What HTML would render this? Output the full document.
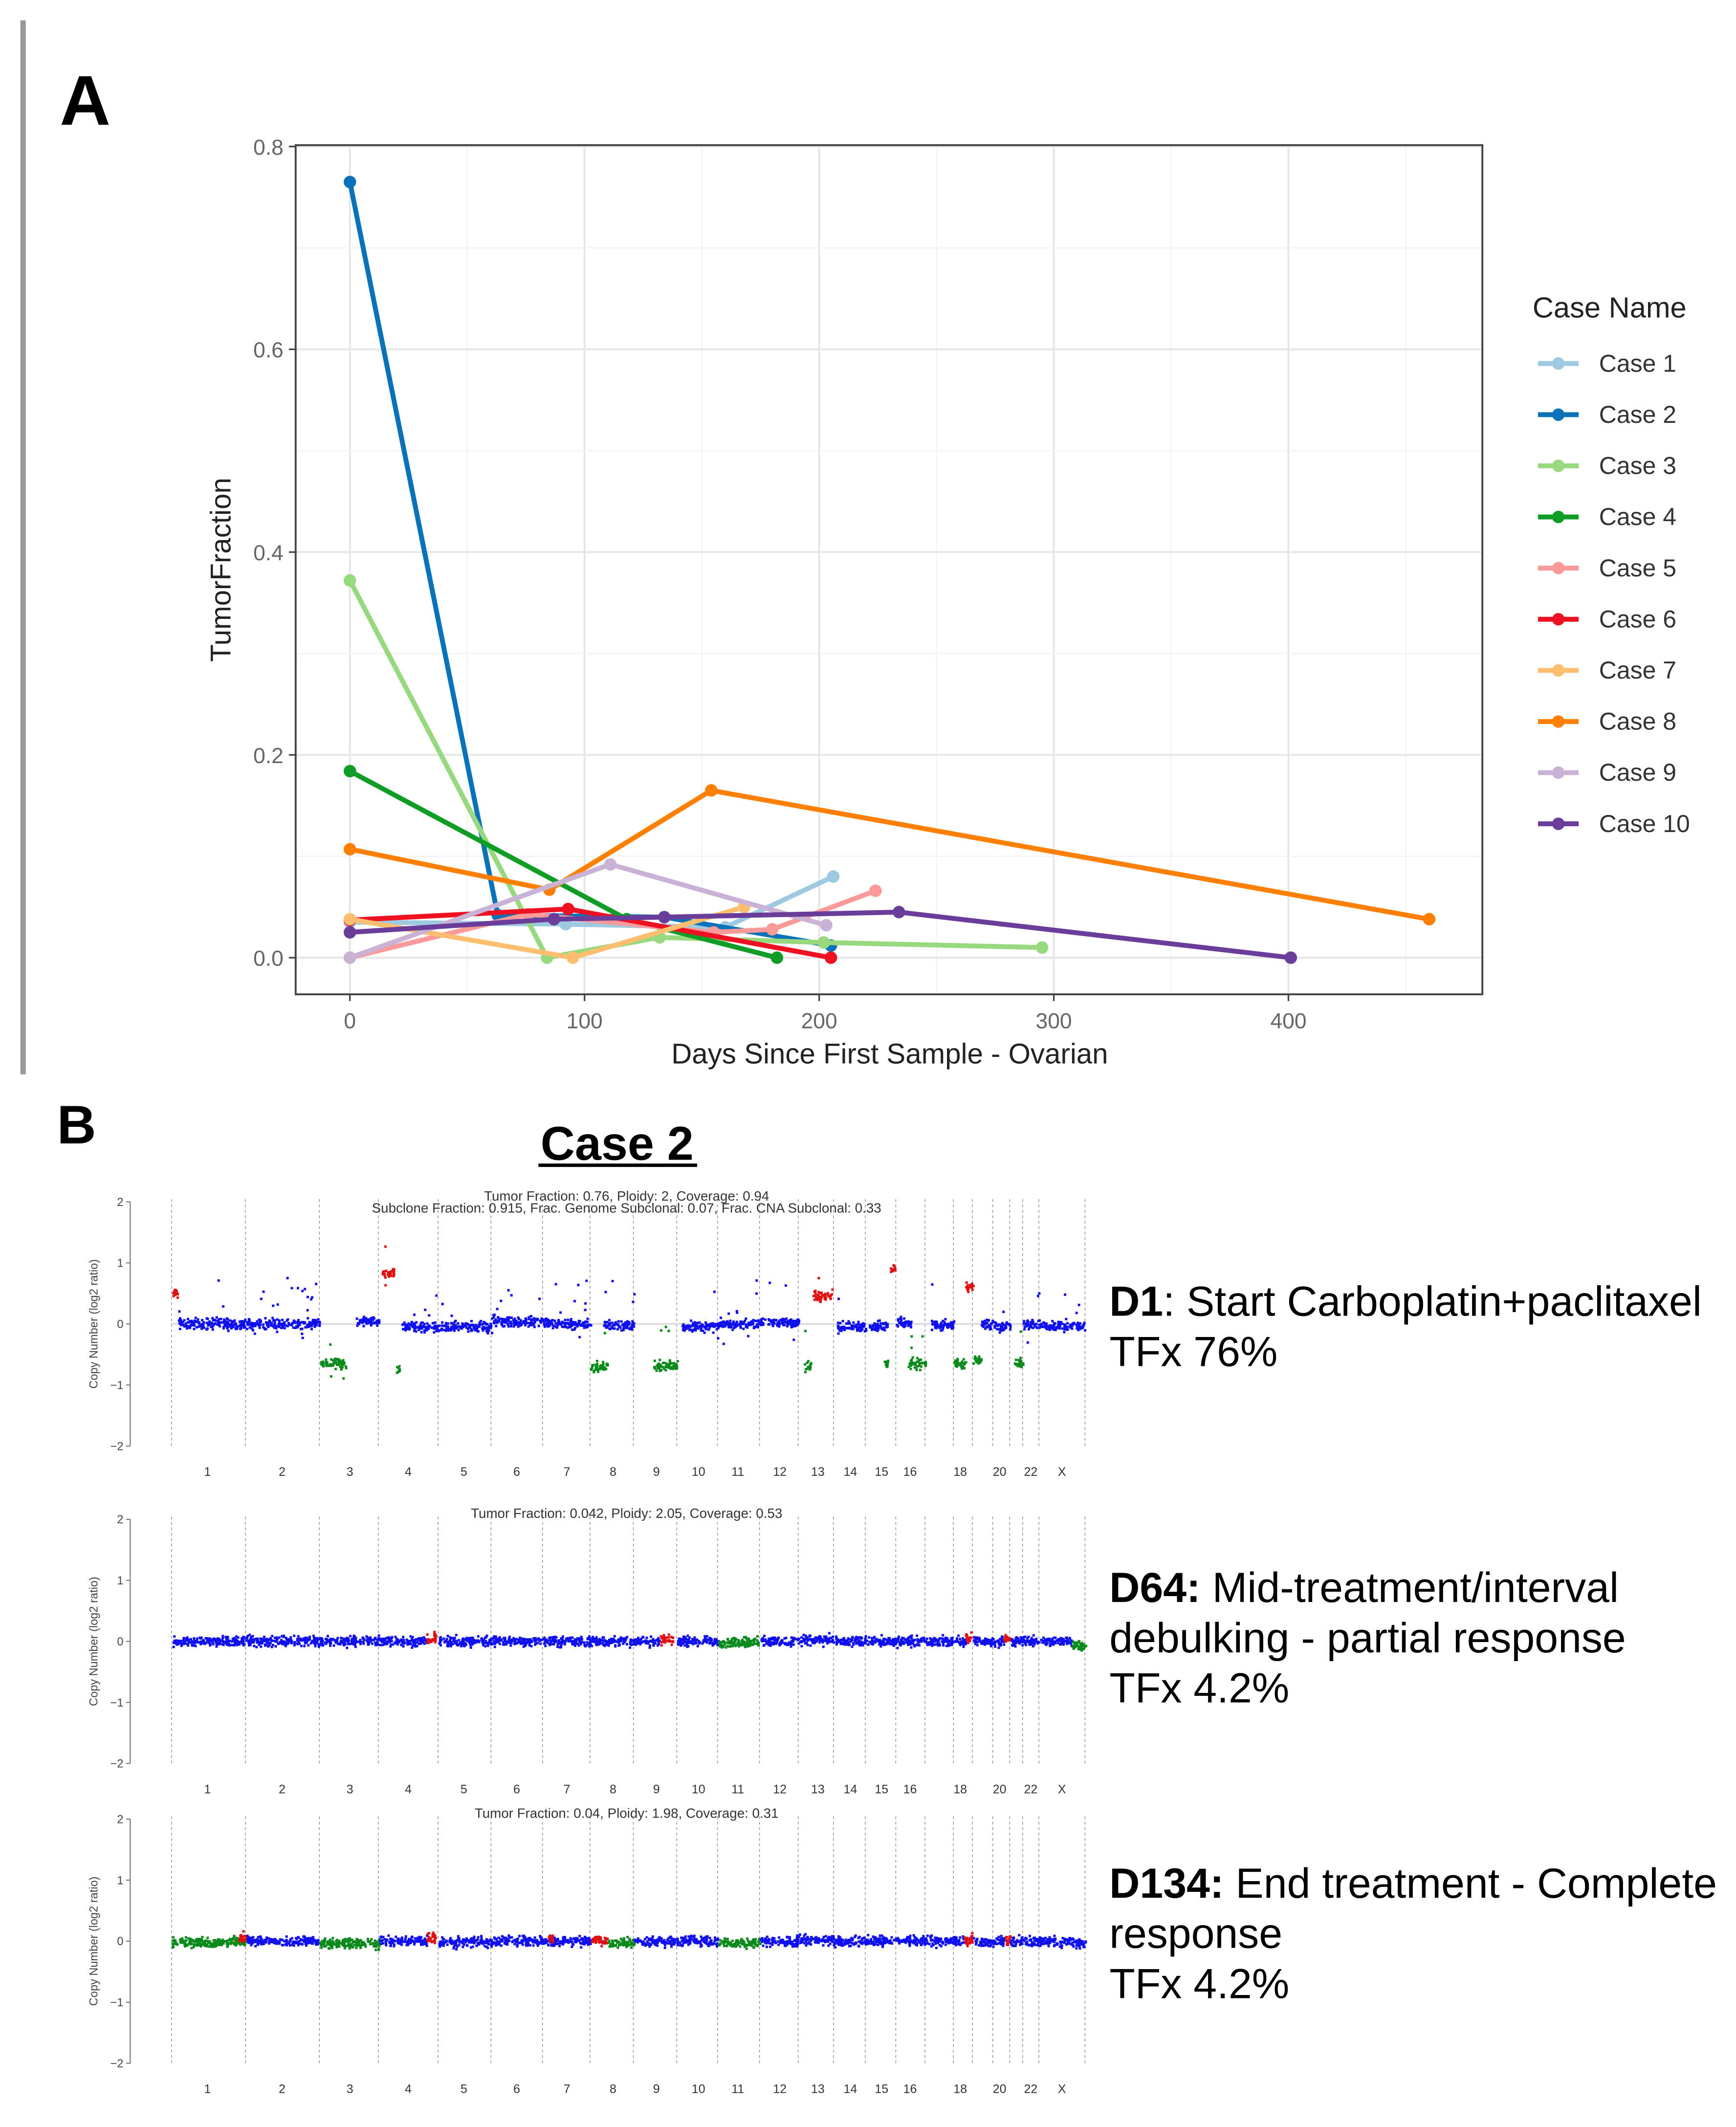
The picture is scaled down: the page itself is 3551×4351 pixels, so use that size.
<!DOCTYPE html>
<html><head><meta charset="utf-8"><title>Tumor fraction and copy number, ovarian cases</title>
<style>
html,body{margin:0;padding:0;background:#fff;}
svg{display:block;}
text{font-family:"Liberation Sans",sans-serif;}
</style></head>
<body>
<svg id="fig" width="3551" height="4351" viewBox="0 0 1280 1568" preserveAspectRatio="none" xmlns="http://www.w3.org/2000/svg">
<rect x="0" y="0" width="1280" height="1568" fill="#fff"/>
<rect x="15" y="15" width="4" height="777" fill="#999"/>
<text x="44" y="92" font-size="52" font-weight="bold" fill="#000">A</text>
<g id="chartA"></g>
<text x="42" y="843" font-size="40" font-weight="bold" fill="#000">B</text>
<text x="455" y="855" font-size="35" font-weight="bold" text-anchor="middle" fill="#000">Case 2</text>
<line x1="397" y1="859" x2="514" y2="859" stroke="#000" stroke-width="2.5"/>
<g id="cnPanels"></g>
<g font-size="31" fill="#000">
<text x="818" y="970"><tspan font-weight="bold">D1</tspan>: Start Carboplatin+paclitaxel</text>
<text x="818" y="1007">TFx 76%</text>
</g>
<g font-size="31" fill="#000">
<text x="818" y="1181"><tspan font-weight="bold">D64:</tspan> Mid-treatment/interval</text>
<text x="818" y="1218">debulking - partial response</text>
<text x="818" y="1255">TFx 4.2%</text>
</g>
<g font-size="31" fill="#000">
<text x="818" y="1399"><tspan font-weight="bold">D134:</tspan> End treatment - Complete</text>
<text x="818" y="1436">response</text>
<text x="818" y="1473">TFx 4.2%</text>
</g>
</svg>
<script>
// ===== Panel A data =====
const caseNames = ["Case 1","Case 2","Case 3","Case 4","Case 5","Case 6","Case 7","Case 8","Case 9","Case 10"];
const caseColors = ["#9ecae1","#0a72b8","#98d97f","#0f9d25","#fb9a99","#ee1122","#fdbf6f","#ff7f00","#cab2d6","#6a3d9a"];
const case1Days = [0,92,160,206];      const case1TF = [0.035,0.033,0.030,0.080];
const case2Days = [0,63,134,205];      const case2TF = [0.765,0.042,0.040,0.012];
const case3Days = [0,84,132,202,295];  const case3TF = [0.372,0.000,0.020,0.015,0.010];
const case4Days = [0,118,182];         const case4TF = [0.184,0.038,0.000];
const case5Days = [0,76,155,180,224];  const case5TF = [0.000,0.043,0.025,0.028,0.066];
const case6Days = [0,93,205];          const case6TF = [0.037,0.048,0.000];
const case7Days = [0,95,168];          const case7TF = [0.038,0.000,0.050];
const case8Days = [0,85,154,460];      const case8TF = [0.107,0.067,0.165,0.038];
const case9Days = [0,111,203];         const case9TF = [0.000,0.092,0.032];
const case10Days = [0,87,134,234,401]; const case10TF = [0.025,0.038,0.040,0.045,0.000];
const xTicks = [0,100,200,300,400];
const yTicks = [0,0.2,0.4,0.6,0.8];
const yTickLabels = ["0.0","0.2","0.4","0.6","0.8"];

const NS = "http://www.w3.org/2000/svg";
function mk(tag, attrs, parent){ const e=document.createElementNS(NS,tag); for(const k in attrs) e.setAttribute(k,attrs[k]); if(parent) parent.appendChild(e); return e; }

const PX0=218, PX1=1093, PY0=107, PY1=733;
function xA(d){ return 258 + d*1.73; }
function yA(v){ return 706 - v*747.5; }

const gA = document.getElementById("chartA");
const panel = mk("rect",{x:PX0,y:PY0,width:PX1-PX0,height:PY1-PY0,fill:"#fff"},gA);


for(let d=-50; d<=480; d+=50){ const x=xA(d); if(x<=PX0||x>=PX1) continue;
  const l=mk("line",{x1:x,x2:x,y1:PY0,y2:PY1,stroke:(d%100===0)?"#e6e6e6":"#f2f2f2","stroke-width":(d%100===0)?1.4:0.8},gA);
  
  
}
for(let v=-0.1; v<=0.85; v+=0.1){ const y=yA(v); if(y<=PY0||y>=PY1) continue;
  const major = Math.abs(Math.round(v*10)%2)===0;
  const l=mk("line",{x1:PX0,x2:PX1,y1:y,y2:y,stroke:major?"#e6e6e6":"#f2f2f2","stroke-width":major?1.4:0.8},gA);
  
  
}
const caseDays=[case1Days,case2Days,case3Days,case4Days,case5Days,case6Days,case7Days,case8Days,case9Days,case10Days];
const caseTF=[case1TF,case2TF,case3TF,case4TF,case5TF,case6TF,case7TF,case8TF,case9TF,case10TF];
for(let i=0;i<caseNames.length;i++){
  const pts = caseDays[i].map((d,j)=>xA(d).toFixed(1)+","+yA(caseTF[i][j]).toFixed(1)).join(" ");
  const pl=mk("polyline",{points:pts,fill:"none",stroke:caseColors[i],"stroke-width":3.6,"stroke-linejoin":"round"},gA);
  
  
  caseDays[i].forEach((d,j)=>{
    const c=mk("circle",{cx:xA(d),cy:yA(caseTF[i][j]),r:4.6,fill:caseColors[i]},gA);
    
    
  });
}
const border=mk("rect",{x:PX0,y:PY0,width:PX1-PX0,height:PY1-PY0,fill:"none",stroke:"#444","stroke-width":1.4},gA);


yTicks.forEach((v,i)=>{
  const y=yA(v);
  const t=mk("line",{x1:PX0-5,x2:PX0,y1:y,y2:y,stroke:"#444","stroke-width":1.2},gA);
  
  
  const tx=mk("text",{x:PX0-9,y:y+6,"font-size":16,"text-anchor":"end",fill:"#666"},gA);
  tx.textContent=yTickLabels[i];
  
  
});
xTicks.forEach(d=>{
  const x=xA(d);
  const t=mk("line",{x1:x,x2:x,y1:PY1,y2:PY1+5,stroke:"#444","stroke-width":1.2},gA);
  
  
  const tx=mk("text",{x:x,y:PY1+25,"font-size":16,"text-anchor":"middle",fill:"#666"},gA);
  tx.textContent=String(d);
  
  
});
const xt=mk("text",{x:656,y:784,"font-size":21,"text-anchor":"middle",fill:"#222"},gA);
xt.textContent="Days Since First Sample - Ovarian";


const yt=mk("text",{x:0,y:0,"font-size":21,"text-anchor":"middle",fill:"#222",transform:"translate(170,420) rotate(-90)"},gA);
yt.textContent="TumorFraction";


const lt=mk("text",{x:1130,y:234,"font-size":21.5,fill:"#222"},gA);
lt.textContent="Case Name";


caseNames.forEach((n,i)=>{
  const y=268+i*37.7;
  const g=mk("g",{},gA);
  
  
  mk("line",{x1:1134,x2:1164,y1:y,y2:y,stroke:caseColors[i],"stroke-width":3.6},g);
  mk("circle",{cx:1149,cy:y,r:4.6,fill:caseColors[i]},g);
  const t=mk("text",{x:1179,y:y+6,"font-size":18,fill:"#333"},g);
  t.textContent=n;
});

// ===== Panel B copy number data =====
const chromLabels = ["1","2","3","4","5","6","7","8","9","10","11","12","13","14","15","16","17","18","19","20","21","22","X"];
const chromBounds = [126.5,181,235.5,279,323,362,400,435,467,499,529,560,588.5,614.5,638,660.5,682,703,717,732,744.5,754,766,800];
const shownLabels = ["1","2","3","4","5","6","7","8","9","10","11","12","13","14","15","16","18","20","22","X"];
// segments: [chromIndex, startFrac, endFrac, log2, colorKey]
const d1Segments = [
 [0,0,0.08,0.5,"r"],[0,0.08,1,0.0,"b"],[1,0,1,0.0,"b"],[2,0,0.45,-0.65,"g"],[2,0.6,1,0.03,"b"],
 [3,0.05,0.25,0.82,"r"],[3,0.28,0.34,-0.75,"g"],[3,0.38,1,-0.05,"b"],[4,0,1,-0.05,"b"],[5,0,1,0.04,"b"],
 [6,0,1,0.0,"b"],[7,0,0.4,-0.7,"g"],[7,0.3,1,-0.02,"b"],[8,0.45,1,-0.68,"g"],[9,0.1,1,-0.04,"b"],
 [10,0,1,0.0,"b"],[11,0,1,0.02,"b"],[12,0.15,0.35,-0.7,"g"],[12,0.4,0.95,0.45,"r"],[13,0.1,1,-0.05,"b"],
 [14,0.1,0.7,-0.03,"b"],[14,0.6,0.8,-0.65,"g"],[14,0.8,0.95,0.9,"r"],[15,0,0.5,0.02,"b"],[15,0.4,1,-0.65,"g"],
 [16,0.2,1,-0.02,"b"],[17,0,0.6,-0.65,"g"],[17,0.6,1,0.6,"r"],[18,0,0.4,-0.6,"g"],[18,0.4,1,0.0,"b"],
 [19,0,1,-0.03,"b"],[20,0.3,1,-0.65,"g"],[21,0,1,-0.02,"b"],[22,0,1,-0.03,"b"]
];
const d64Segments = [
 [0,0,1,0,"b"],[1,0,1,0,"b"],[2,0,1,0,"b"],[3,0,0.8,0,"b"],[3,0.8,0.95,0.05,"r"],[4,0,1,0,"b"],[5,0,1,0,"b"],
 [6,0,1,0,"b"],[7,0,1,0,"b"],[8,0,0.6,0,"b"],[8,0.6,0.9,0.03,"r"],[9,0,1,0,"b"],[10,0,1,-0.02,"g"],
 [11,0,1,0,"b"],[12,0,1,0.02,"b"],[13,0,1,0,"b"],[14,0,1,0,"b"],[15,0,1,0,"b"],[16,0,1,0,"b"],
 [17,0,0.6,0,"b"],[17,0.6,0.9,0.05,"r"],[18,0,1,0,"b"],[19,0,0.6,0,"b"],[19,0.6,1,0.02,"r"],[20,0,1,0,"b"],
 [21,0,1,0,"b"],[22,0,0.7,0,"b"],[22,0.7,1,-0.06,"g"]
];
const d134Segments = [
 [0,0,1,-0.02,"g"],[0,0.9,1,0.05,"r"],[1,0,1,0.0,"b"],[2,0,1,-0.04,"g"],[3,0,0.8,0,"b"],[3,0.8,0.95,0.06,"r"],
 [4,0,1,-0.02,"b"],[5,0,1,0,"b"],[6,0,1,0,"b"],[6,0.1,0.2,0.05,"r"],[7,0,0.4,0.02,"r"],[7,0.4,1,-0.04,"g"],
 [8,0,1,0,"b"],[9,0,1,0,"b"],[10,0,1,-0.03,"g"],[11,0,1,0,"b"],[12,0,1,0.02,"b"],[13,0,1,0,"b"],
 [14,0,1,0,"b"],[15,0,1,0,"b"],[16,0,1,0,"b"],[17,0,0.5,0,"b"],[17,0.5,1,0.02,"r"],[18,0,1,-0.02,"b"],
 [19,0,0.6,0,"b"],[19,0.6,1,0.03,"r"],[20,0,1,0,"b"],[21,0,1,0,"b"],[22,0,1,-0.02,"b"]
];
const cnTitles = [
 ["Tumor Fraction: 0.76, Ploidy: 2, Coverage: 0.94","Subclone Fraction: 0.915, Frac. Genome Subclonal: 0.07, Frac. CNA Subclonal: 0.33"],
 ["Tumor Fraction: 0.042, Ploidy: 2.05, Coverage: 0.53"],
 ["Tumor Fraction: 0.04, Ploidy: 1.98, Coverage: 0.31"]
];
const cnSegments=[d1Segments,d64Segments,d134Segments];
const cnTop=[886,1120,1341];
const cnNames=["copy-number-d1","copy-number-d64","copy-number-d134"];
const colorMap={b:"#1010ee",r:"#e01010",g:"#0a8a1a"};
const labelX={"1":153,"2":208,"3":258,"4":301,"5":342,"6":381,"7":418,"8":452,"9":484,"10":515,"11":544,"12":575,"13":603,"14":627,"15":650,"16":671,"18":708,"20":737,"22":760,"X":783};

// deterministic visual jitter for scatter texture (noise only, not data)
let seed=12345;
function jit(){ seed=(seed*1103515245+12345)%2147483648; return seed/2147483648; }
function gauss(){ return (jit()+jit()+jit()-1.5)/1.5; }

const gB=document.getElementById("cnPanels");
cnSegments.forEach((segs,pi)=>{
  const top=cnTop[pi];
  const y0=top+90;
  const yC=v=>y0 - v*45;
  const g=mk("g",{},gB);
  
  
  mk("line",{x1:96,x2:96,y1:yC(2),y2:yC(-2),stroke:"#555","stroke-width":0.6},g);
  [2,1,0,-1,-2].forEach(v=>{
    mk("line",{x1:93,x2:96,y1:yC(v),y2:yC(v),stroke:"#555","stroke-width":0.6},g);
    const t=mk("text",{x:91,y:yC(v)+3,"font-size":8.5,"text-anchor":"end",fill:"#444"},g);
    t.textContent=String(v).replace("-","\u2212");
    
    
  });
  const yl=mk("text",{x:0,y:0,"font-size":8.5,"text-anchor":"middle",fill:"#444",transform:"translate(72,"+y0+") rotate(-90)"},g);
  yl.textContent="Copy Number (log2 ratio)";
  
  
  chromBounds.forEach(x=>{
    const l=mk("line",{x1:x,x2:x,y1:yC(2)-2,y2:yC(-2),stroke:"#888","stroke-width":0.5,"stroke-dasharray":"2,2"},g);
    
    
  });
  mk("line",{x1:126,x2:800,y1:y0,y2:y0,stroke:"#ddd","stroke-width":1.5},g);
  let html="";
  segs.forEach(s=>{
    const a=chromBounds[s[0]], b=chromBounds[s[0]+1];
    const xs=a+(b-a)*s[1], xe=a+(b-a)*s[2];
    const n=Math.max(6,Math.round((xe-xs)*3.5));
    const col=colorMap[s[4]];
    for(let k=0;k<n;k++){
      const x=xs+(xe-xs)*jit();
      let v=s[3]+gauss()*0.12;
      if(pi===0 && jit()<0.05) v+= (jit()-0.3)*1.0;
      html+='<rect x="'+x.toFixed(1)+'" y="'+(yC(v)-0.9).toFixed(1)+'" width="1.8" height="1.8" fill="'+col+'"/>';
    }
  });
  const pg=mk("g",{},g);
  
  
  pg.innerHTML=html;
  shownLabels.forEach(c=>{
    const t=mk("text",{x:labelX[c],y:yC(-2)+22,"font-size":9,"text-anchor":"middle",fill:"#333"},g);
    t.textContent=c;
    
    
  });
  cnTitles[pi].forEach((s,i)=>{
    const t=mk("text",{x:462,y:top-1+i*9,"font-size":10,"text-anchor":"middle",fill:"#333"},g);
    t.textContent=s;
    
    
  });
});
</script>
</body></html>
